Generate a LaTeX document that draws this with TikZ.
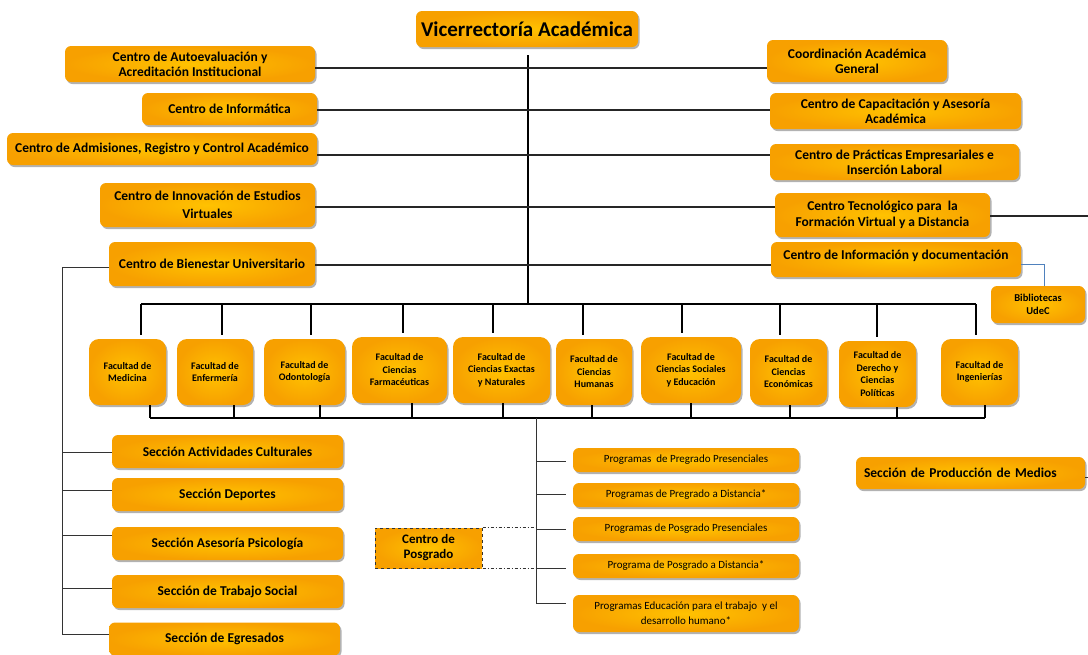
\documentclass[tikz,border=0pt]{standalone}
\usepackage{fontspec}
\setmainfont{Carlito}
\usetikzlibrary{shadows, positioning}
\definecolor{naranja}{RGB}{247,160,0}
\definecolor{amarillo}{RGB}{255,194,0}
\definecolor{azul}{RGB}{79,129,189}

\begin{document}
\begin{tikzpicture}[x=1pt, y=-1pt,
    wh/.style 2 args={minimum width=#1pt, minimum height=#2pt},
    caja/.style={rounded corners=6pt, inner color=amarillo, outer color=naranja,
        drop shadow={shadow xshift=1.5pt, shadow yshift=-2pt, fill=black, opacity=0.3},
        align=center, inner sep=1pt, font=\bfseries\fontsize{13.5}{15}\selectfont},
    jefe/.style={font=\bfseries\fontsize{21}{24}\selectfont},
    facu/.style={caja, rounded corners=10pt, wh={#1}{66}, font=\bfseries\fontsize{10}{12.5}\selectfont},
    prog/.style={caja, wh={226}{#1}, font=\fontsize{11}{15}\selectfont},
    secc/.style={caja, wh={231}{33}},
    linea/.style={draw=black!85, line width=2pt},
    bus/.style={draw=black, line width=2.6pt},
    fina/.style={draw=black!80, line width=1pt}]
    \useasboundingbox (0,0) rectangle (1088,654);

    % direccion
    \node[caja, jefe, wh={222}{36}] (vice) at (527,29) {Vicerrectoría Académica};

    % centros a la izquierda
    \node[caja, wh={250}{36}] (autoeval) at (190,64) {Centro de Autoevaluación y\\Acreditación Institucional};
    \node[caja, wh={175}{32}] (informatica) at (229.5,109) {Centro de Informática};
    \node[caja, wh={310}{32}] (admision) at (162,149) {Centro de Admisiones, Registro y Control Académico};
    \node[caja, wh={215}{44}, font=\bfseries\fontsize{13.5}{18}\selectfont] (innovacion) at (207.5,205) {Centro de Innovación de Estudios\\Virtuales};
    \node[caja, wh={206}{44}] (bienestar) at (212,264) {Centro de Bienestar Universitario};

    % centros a la derecha
    \node[caja, wh={180}{42}] (coord) at (857,61) {Coordinación Académica\\General};
    \node[caja, wh={251}{36}] (capacit) at (895.5,111) {Centro de Capacitación y Asesoría\\Académica};
    \node[caja, wh={249}{36}] (practicas) at (894.5,162) {Centro de Prácticas Empresariales e\\Inserción Laboral};
    \node[caja, wh={215}{44}, font=\bfseries\fontsize{13.5}{16}\selectfont] (tecno) at (882.5,215) {Centro Tecnológico para \ la\\Formación Virtual y a Distancia};
    \node[caja, wh={250}{35}, text depth=9pt] (informac) at (896,259.5) {Centro de Información y documentación};
    \node[caja, wh={94}{37}, font=\bfseries\fontsize{10.5}{12.5}\selectfont] (biblio) at (1038,304.5) {Bibliotecas\\UdeC};

    % tronco y ramas
    \coordinate (troncoA) at (528,55);
    \coordinate (troncoB) at (528,304);
    \draw[bus] (troncoA) -- (troncoB);
    \foreach \a/\b/\y in {autoeval/coord/68, informatica/capacit/110, admision/practicas/155,
                          innovacion/tecno/207, bienestar/informac/265}
        \draw[linea] (\a.east |- 0,\y) -- (\b.west |- 0,\y);
    \draw[linea] (tecno.east |- 0,216) -- (1088,216);
    \draw[azul, line width=0.8pt] (informac.east |- 0,264) -| (biblio.north -| 1044,0);

    % facultades
    \node[facu=77] (med) at (127.5,372) {Facultad de\\Medicina};
    \node[facu=76] (enf) at (215,372) {Facultad de\\Enfermería};
    \node[facu=81] (odo) at (304.5,372) {Facultad de\\Odontología};
    \node[facu=95] (far) at (399.5,370) {Facultad de\\Ciencias\\Farmacéuticas};
    \node[facu=97] (exa) at (501.5,370) {Facultad de\\Ciencias Exactas\\y Naturales};
    \node[facu=76] (hum) at (594,372) {Facultad de\\Ciencias\\Humanas};
    \node[facu=100] (soc) at (691,370) {Facultad de\\Ciencias Sociales\\y Educación};
    \node[facu=77] (eco) at (788.5,372) {Facultad de\\Ciencias\\Económicas};
    \node[facu=77] (der) at (877.5,374) {Facultad de\\Derecho y\\Ciencias\\Políticas};
    \node[facu=77] (ing) at (979.5,372) {Facultad de\\Ingenierías};

    \coordinate (busA) at (141,304);
    \coordinate (busB) at (976,304);
    \coordinate (busC) at (150,418);
    \coordinate (busD) at (985,418);
    \draw[bus] (busA) -- (busB);
    \draw[bus] (busC) -- (busD);
    \foreach \f/\xa/\xb in {med/141/150, enf/222/234, odo/311/320, far/403/412, exa/493/503,
                            hum/583/592, soc/682/691, eco/780/790, der/877/897, ing/976/985} {
        \draw[bus] (\xa,304) -- ([yshift=4pt]\f.north -| \xa,0);
        \draw[bus] (\f.south -| \xb,0) -- (\xb,418);
    }

    % programas
    \node[prog=24] (pPreP) at (686,460) {Programas \ de Pregrado Presenciales};
    \node[prog=24] (pPreD) at (686,495) {Programas de Pregrado a Distancia*};
    \node[prog=24] (pPosP) at (686,529) {Programas de Posgrado Presenciales};
    \node[prog=24] (pPosD) at (686,566) {Programa de Posgrado a Distancia*};
    \node[prog=37] (pEdu) at (686,613.5) {Programas Educación para el trabajo \ y el\\desarrollo humano*};
    \coordinate (progA) at (536,418);
    \coordinate (progB) at (536,603);
    \draw[fina] (progA) -- (progB);
    \foreach \p/\y in {pPreP/461, pPreD/494, pPosP/529, pPosD/568, pEdu/603}
        \draw[fina] (536,\y) -- ([xshift=-7pt]\p.west |- 0,\y);

    \node[inner color=amarillo, outer color=naranja, draw=black!80, dashed, line width=1pt,
          wh={107}{40}, align=center, font=\bfseries\fontsize{13}{15}\selectfont] (posg) at (428.5,548) {Centro de\\Posgrado};
    \draw[fina, dash dot] (posg.north east) -- (posg.north east -| progA);
    \draw[fina, dash dot] (posg.south east) -- (posg.south east -| progA);

    % secciones de bienestar
    \node[secc] (sCult) at (227.5,451.5) {Sección Actividades Culturales};
    \node[secc] (sDep) at (227.5,494.5) {Sección Deportes};
    \node[secc] (sPsi) at (227.5,543.5) {Sección Asesoría Psicología};
    \node[secc] (sTra) at (227.5,591.5) {Sección de Trabajo Social};
    \node[secc] (sEgr) at (224.5,639) {Sección de Egresados};
    \coordinate (bienA) at (62,267);
    \coordinate (bienB) at (62,634);
    \draw[fina] (bienestar.west |- bienA) -- (bienA) -- (bienB);
    \foreach \s/\y in {sCult/452, sDep/490, sPsi/535, sTra/588, sEgr/634}
        \draw[fina] (62,\y) -- (\s.west |- 0,\y);

    % produccion
    \node[caja, wh={229}{32}, text width=213pt, align=left] (prod) at (970.5,473) {Sección de Producción de Medios};
    \draw[fina] (prod.east |- 0,477) -- (1088,477);
\end{tikzpicture}
\end{document}
